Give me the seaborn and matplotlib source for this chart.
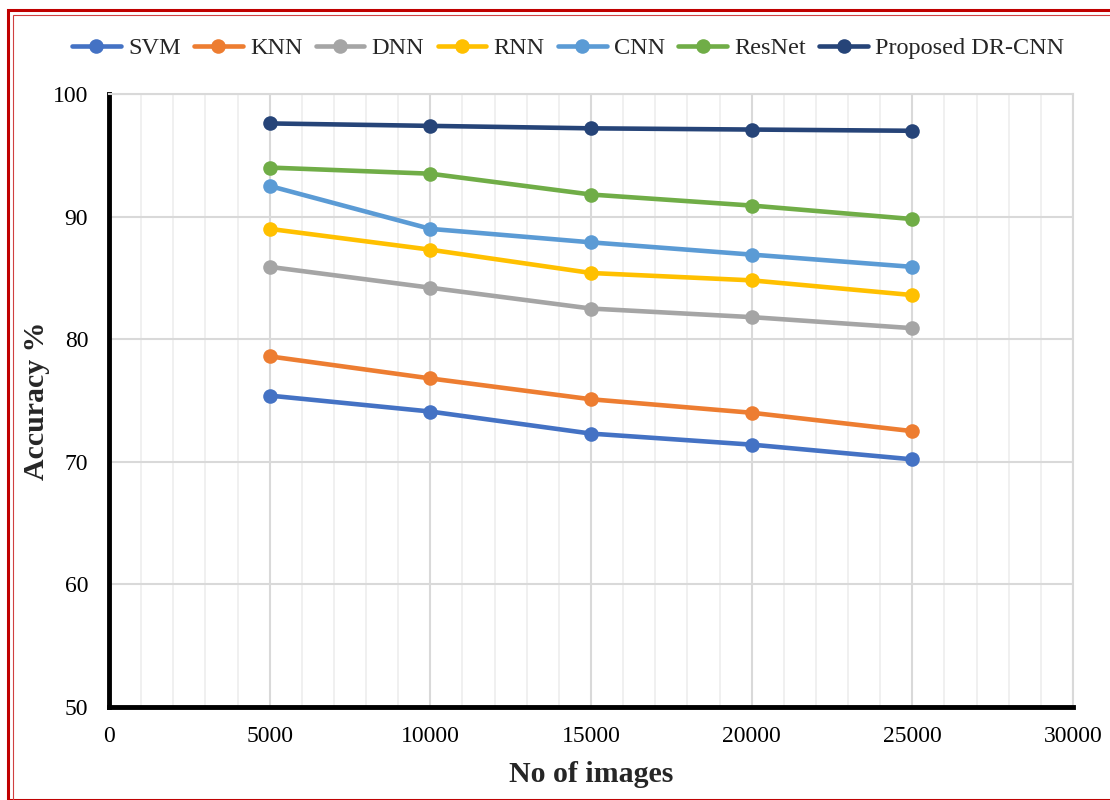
import matplotlib
matplotlib.use("Agg")
import matplotlib.pyplot as plt
from matplotlib.patches import Rectangle
from matplotlib.ticker import MultipleLocator
import seaborn as sns
import pandas as pd

images = [5000, 10000, 15000, 20000, 25000]
svm = [75.4, 74.1, 72.3, 71.4, 70.2]
knn = [78.6, 76.8, 75.1, 74.0, 72.5]
dnn = [85.9, 84.2, 82.5, 81.8, 80.9]
rnn = [89.0, 87.3, 85.4, 84.8, 83.6]
cnn = [92.5, 89.0, 87.9, 86.9, 85.9]
resnet = [94.0, 93.5, 91.8, 90.9, 89.8]
proposed = [97.6, 97.4, 97.2, 97.1, 97.0]

models = ["SVM", "KNN", "DNN", "RNN", "CNN", "ResNet", "Proposed DR-CNN"]
series = [svm, knn, dnn, rnn, cnn, resnet, proposed]
colors = ["#4472C4", "#ED7D31", "#A5A5A5", "#FFC000", "#5B9BD5", "#70AD47", "#264478"]

rows = []
for name, vals in zip(models, series):
    for x, v in zip(images, vals):
        rows.append({"No of images": x, "Accuracy %": v, "Model": name})
df = pd.DataFrame(rows)

sns.set_theme(style="white")
plt.rcParams["font.family"] = ["Liberation Serif", "DejaVu Serif"]

fig = plt.figure(figsize=(11.1, 8.0), dpi=100)
ax = fig.add_axes([0.0982, 0.11625, 0.8685, 0.76625])

sns.lineplot(data=df, x="No of images", y="Accuracy %", hue="Model",
             hue_order=models, palette=colors, marker="o", markersize=10.5,
             markeredgewidth=0, linewidth=3.3, ax=ax, legend=True)

ax.set_xlim(0, 30000)
ax.set_ylim(50, 100)
ax.xaxis.set_major_locator(MultipleLocator(5000))
ax.xaxis.set_minor_locator(MultipleLocator(1000))
ax.yaxis.set_major_locator(MultipleLocator(10))

ax.grid(which="minor", axis="x", color="#EDEDED", linewidth=1.2)
ax.grid(which="major", axis="x", color="#D9D9D9", linewidth=1.5)
ax.grid(which="major", axis="y", color="#D9D9D9", linewidth=1.5)
ax.set_axisbelow(True)

for side in ["top", "right"]:
    ax.spines[side].set_color("#D9D9D9")
    ax.spines[side].set_linewidth(1.5)
for side in ["left", "bottom"]:
    ax.spines[side].set_color("black")
    ax.spines[side].set_linewidth(3.5)

ax.tick_params(axis="both", which="both", length=0, labelsize=17, colors="black")
ax.tick_params(axis="y", pad=15)
ax.tick_params(axis="x", pad=14)
ax.set_xlabel("No of images", fontsize=21.5, fontweight="bold", labelpad=10)
ax.set_ylabel("Accuracy %", fontsize=21.5, fontweight="bold")
ax.yaxis.set_label_coords(-0.061, 0.5)

handles, labels = ax.get_legend_handles_labels()
ax.get_legend().remove()
fig.legend(handles, labels, loc="center", bbox_to_anchor=(0.512, 0.94), ncol=7,
           frameon=False, fontsize=17.5, handlelength=2.0, columnspacing=0.55,
           handletextpad=0.3)

# double red frame around the figure
fig.patches.append(Rectangle((8 / 1110, 0.5 / 800), 1.1, (790 - 0.5) / 800,
                             transform=fig.transFigure, fill=False,
                             edgecolor="#C00000", linewidth=2.2, zorder=10))
fig.patches.append(Rectangle((12.5 / 1110, 0.5 / 800), 1.1, (785 - 0.5) / 800,
                             transform=fig.transFigure, fill=False,
                             edgecolor="#D04040", linewidth=0.8, zorder=10))

fig.savefig("out.png", dpi=100)
